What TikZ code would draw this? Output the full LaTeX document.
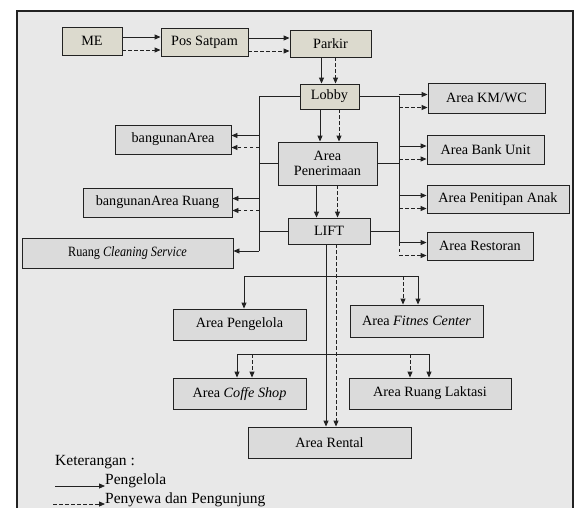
\documentclass[tikz,border=0pt]{standalone}
\usepackage{fontspec}
\setmainfont{Liberation Serif}
\usetikzlibrary{arrows.meta}
\definecolor{bgc}{HTML}{E8E8E8}
\definecolor{boxc}{HTML}{DBDBDB}
\definecolor{beigec}{HTML}{DCDACE}
\definecolor{linec}{HTML}{222222}
\begin{document}
\begin{tikzpicture}[x=1pt,y=-1pt,>={Triangle[length=6pt,width=5pt]}]
  \tikzstyle{r}=[draw=linec, fill=boxc, line width=0.9pt, inner sep=0pt,
    font=\fontsize{14.2}{15}\selectfont, align=center]
  \tikzstyle{rb}=[r, fill=beigec]
  \tikzstyle{pg}=[draw=linec, line width=0.9pt]
  \tikzstyle{pp}=[pg, dash pattern=on 3.5pt off 2.5pt]
  \tikzstyle{lg}=[anchor=west, inner sep=0pt, font=\fontsize{15.5}{16}\selectfont]
  \useasboundingbox (0,0) rectangle (577,507);
  \clip (0,0) rectangle (577,507);
  \draw[fill=bgc, line width=2pt, draw=linec] (17,11) rectangle (573,530);
  % ruang
  \foreach \n/\x/\y/\w/\h/\t in
    {me/92/41/60/28/{ME}, pos/204.5/42/87/28/{Pos Satpam},
     parkir/330.5/43.5/81/27/{Parkir}, lobby/329.5/96.5/59/25/{Lobby}}
    \node[rb, minimum width=\w pt, minimum height=\h pt]
      (\n) at (\x,\y) {\t};
  \foreach \n/\x/\y/\w/\h/\t in
    {kmwc/486.5/98/117/30/{Area KM/WC}, bank/485.5/149.5/117/29/{Area Bank Unit},
     titip/498/199/142/28/{Area Penitipan Anak}, resto/480/246/106/28/{Area Restoran},
     terima/327.5/163.5/99/43/{Area\\Penerimaan}, lift/329/231/82/26/{LIFT},
     bgn/173/139.5/116/29/{bangunanArea}, bgnr/157.5/202.5/149/29/{bangunanArea Ruang},
     clean/127.5/253/211/30/{\scalebox{0.86}[1]{Ruang \textit{Cleaning Service}}},
     kelola/239.5/324.5/133/31/{Area Pengelola},
     fitnes/416.5/321/133/32/{Area \textit{Fitnes Center}},
     coffe/239.5/393.5/133/31/{Area \textit{Coffe Shop}},
     laktasi/430/393.5/162/31/{Area Ruang Laktasi},
     rental/329.5/442.5/163/31/{Area Rental}}
    \node[r, minimum width=\w pt, minimum height=\h pt]
      (\n) at (\x,\y) {\t};
  % alur atas
  \foreach \a/\b in {me/pos,pos/parkir} {
    \draw[pg,->] ([yshift=4pt]\a.east) -- ([yshift=4pt]\a.east -| \b.west);
    \draw[pp,->] ([yshift=-9pt]\a.east) -- ([yshift=-9pt]\a.east -| \b.west);
  }
  \foreach \a/\b/\l/\o in
    {parkir/lobby/-9/5,lobby/terima/-9.5/9.5,terima/lift/-11/10,lift/rental/-3/7} {
    \draw[pg,->] ([xshift=\l pt]\a.south) -- ([xshift=\l pt]\a.south |- \b.north);
    \draw[pp,->] ([xshift=\o pt]\a.south) -- ([xshift=\o pt]\a.south |- \b.north);
  }
  % cabang kanan
  \coordinate (rbus) at (399,96);
  \draw[pg] (lobby.east) -| ([yshift=3.5pt]resto.west -| rbus);
  \draw[pp] ([yshift=3.5pt]resto.west -| rbus) -- ([yshift=-8.5pt]resto.west -| rbus);
  \foreach \a in {terima,lift}
    \draw[pg] (\a.east) -- (\a.east -| rbus);
  \foreach \b in {kmwc,bank,titip,resto} {
    \draw[pg,->] ([yshift=3.5pt]\b.west -| rbus) -- ([yshift=3.5pt]\b.west);
    \draw[pp,->] ([yshift=-9.5pt]\b.west -| rbus) -- ([yshift=-9.5pt]\b.west);
  }
  % cabang kiri
  \coordinate (lbus) at (259,96);
  \draw[pg] (lobby.west) -| ([yshift=2pt]clean.east -| lbus);
  \foreach \a in {terima,lift}
    \draw[pg] (\a.west) -- (\a.west -| lbus);
  \foreach \b in {bgn,bgnr} {
    \draw[pg,->] ([yshift=4pt]\b.east -| lbus) -- ([yshift=4pt]\b.east);
    \draw[pp,->] ([yshift=-8pt]\b.east -| lbus) -- ([yshift=-8pt]\b.east);
  }
  \draw[pg,->] ([yshift=2pt]clean.east -| lbus) -- ([yshift=2pt]clean.east);
  % cabang bawah
  \coordinate (bus1) at (0,276);
  \coordinate (bus2) at (0,354);
  \draw[pg,<->] ([xshift=4.5pt]kelola.north) |- ([xshift=1.5pt]fitnes.north |- bus1)
    -- ([xshift=1.5pt]fitnes.north);
  \draw[pp,->] ([xshift=-13.5pt]fitnes.north |- bus1) -- ([xshift=-13.5pt]fitnes.north);
  \draw[pg,<->] ([xshift=-2.5pt]coffe.north) |- ([xshift=-1pt]laktasi.north |- bus2)
    -- ([xshift=-1pt]laktasi.north);
  \draw[pp,->] ([xshift=12.5pt]coffe.north |- bus2) -- ([xshift=12.5pt]coffe.north);
  \draw[pp,->] ([xshift=-20pt]laktasi.north |- bus2) -- ([xshift=-20pt]laktasi.north);
  % keterangan
  \node[lg] (ket) at (55,462) {Keterangan :};
  \node[lg] (lgpg) at (105,481) {Pengelola};
  \node[lg] (lgpp) at (105,500) {Penyewa dan Pengunjung};
  \coordinate (lg1) at (55,486);
  \coordinate (lg2) at (53,504);
  \draw[pg,line width=0.8pt,->] (lg1) -- (lg1 -| lgpg.west);
  \draw[pp,line width=0.8pt,->] (lg2) -- (lg2 -| lgpp.west);
\end{tikzpicture}
\end{document}
